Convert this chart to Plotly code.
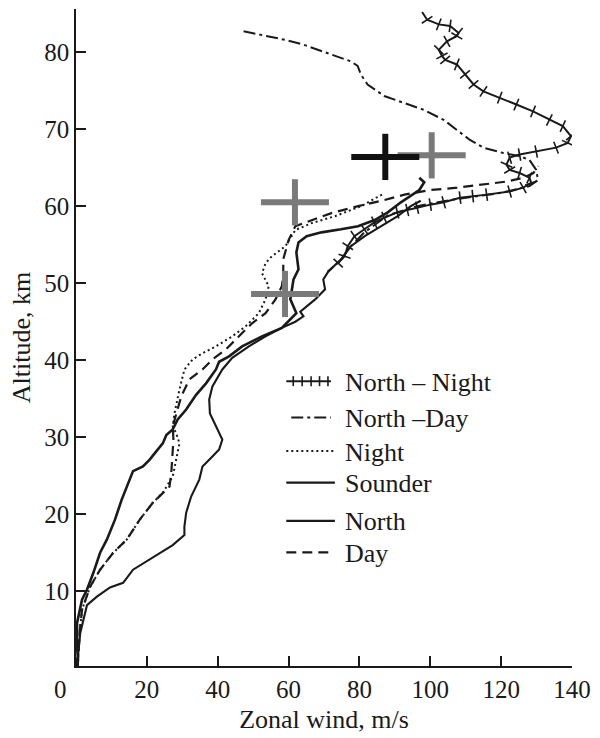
import plotly.graph_objects as go

# ---------------- data ----------------
north_night_v = [97.7, 99.1, 102.4, 105.6, 108.0, 107.5, 104.7, 102.4, 103.3, 104.2, 107.5, 109.8,
                 112.2, 115.0, 119.6, 124.3, 129.0, 133.6, 137.4, 139.7, 138.8, 135.5, 129.9, 125.2,
                 122.4, 121.5, 122.4, 125.2, 128.0, 128.5, 126.2, 122.4, 115.9, 112.0, 108.4, 103.8,
                 100.0, 96.3, 93.5, 90.7, 87.0, 84.2, 81.4, 78.6, 76.7, 75.8, 74.0]
north_night_alt = [85.2, 84.2, 83.6, 83.4, 82.5, 82.1, 81.4, 80.3, 79.5, 79.0, 78.4, 77.1,
                   75.8, 74.9, 74.1, 73.2, 72.3, 71.2, 70.4, 69.1, 68.2, 67.6, 67.1, 66.7,
                   66.3, 65.4, 64.7, 64.3, 63.7, 63.0, 62.4, 61.9, 61.5, 61.3, 61.1, 60.5,
                   60.2, 59.8, 59.5, 59.2, 58.5, 57.9, 57.0, 56.1, 54.8, 53.5, 52.6]

north_day_v = [47.3, 53.0, 59.0, 64.0, 68.3, 73.0, 77.6, 79.5, 80.4, 82.3, 87.0, 92.6, 98.2, 103.8,
               107.5, 111.2, 115.0, 120.6, 125.2, 128.0, 129.9, 130.4, 128.0, 119.6, 105.6, 96.3,
               88.0, 81.4, 76.8, 74.8, 71.0]
north_day_alt = [82.7, 82.2, 81.6, 81.0, 80.3, 79.6, 78.8, 78.2, 77.1, 75.8, 74.3, 73.4, 72.5, 71.2,
                 69.9, 68.6, 67.6, 66.9, 66.5, 66.0, 64.7, 63.4, 62.6, 61.7, 60.8, 60.0,
                 58.8, 56.6, 54.4, 53.0, 51.5]

night_v = [0.5, 1.0, 1.7, 4.0, 6.8, 10.5, 14.3, 18.0, 21.7, 24.5, 27.3, 28.3, 29.2, 28.3, 27.3,
           27.8, 29.2, 30.6, 32.9, 35.7, 39.5, 44.1, 47.9, 51.6, 53.5, 54.4, 52.5, 53.5, 55.3,
           59.1, 61.9, 66.5, 73.1, 80.5, 87.1]
night_alt = [0.3, 4.5, 7.6, 10.6, 12.8, 15.0, 16.7, 19.3, 21.5, 22.8, 24.9, 27.1, 29.2, 30.5, 31.4,
             33.1, 36.2, 38.8, 40.1, 40.9, 41.8, 43.1, 44.4, 46.1, 47.9, 49.6, 51.3, 52.6, 53.5,
             54.8, 56.9, 57.8, 58.7, 60.0, 61.7]

sounder_v = [0.3, 0.8, 1.2, 3.1, 5.9, 9.6, 13.3, 16.1, 19.9, 23.6, 27.3, 30.6, 30.6, 31.1, 32.5,
             34.8, 35.7, 38.5, 40.4, 41.3, 39.5, 37.8, 37.6, 38.5, 41.3, 44.1, 48.8, 53.5, 58.1,
             61.9, 64.2, 63.3, 67.5, 70.3, 69.8, 71.2, 74.8, 77.6, 81.5, 86.0, 90.8, 94.5, 97.3]
sounder_alt = [0.3, 2.5, 4.6, 8.2, 9.3, 10.5, 11.1, 12.8, 13.9, 15.0, 16.0, 17.3, 18.4, 20.2, 22.3,
               24.5, 26.2, 27.5, 28.4, 29.7, 31.4, 33.1, 34.9, 36.6, 38.8, 40.3, 41.8, 43.1, 44.2,
               45.0, 45.7, 46.3, 47.9, 49.2, 50.5, 51.5, 53.1, 54.8, 56.1, 57.4, 58.7, 60.0, 60.7]

north_v = [0.0, 0.5, 0.3, 0.3, 1.7, 3.1, 4.9, 6.8, 8.7, 11.0, 12.9, 14.7, 16.1, 18.9, 20.8, 22.7,
           24.5, 25.5, 27.3, 28.7, 31.1, 33.9, 36.7, 39.5, 40.4, 43.2, 46.9, 52.5, 58.1, 62.2,
           60.5, 61.4, 62.8, 62.2, 62.8, 65.1, 69.3, 74.8, 79.6, 84.3, 88.0, 91.7, 94.5, 96.9,
           98.3, 96.9]
north_alt = [0.3, 1.5, 2.8, 5.9, 8.9, 10.2, 12.4, 15.0, 16.7, 19.3, 21.9, 24.1, 25.6, 26.2, 27.1,
             28.2, 29.2, 30.3, 31.0, 32.3, 33.6, 35.5, 37.0, 38.8, 39.8, 40.5, 41.8, 43.1, 44.2,
             46.1, 47.9, 50.5, 51.8, 54.0, 55.3, 56.1, 56.6, 57.0, 57.4, 58.2, 59.2, 60.5, 61.3,
             62.1, 63.1, 63.7]

day_v = [0.5, 1.0, 1.7, 4.0, 6.8, 10.5, 14.3, 18.0, 21.7, 24.5, 26.4, 26.9, 27.3, 27.5, 27.3,
         28.3, 29.7, 32.0, 35.7, 38.5, 42.3, 46.0, 49.7, 53.5, 56.3, 58.1, 58.5, 58.5, 60.0, 61.9,
         66.5, 72.1, 79.6, 87.1, 92.7, 100.1, 107.6, 115.1, 121.6, 126.3, 129.1, 130.5]
day_alt = [0.3, 4.5, 7.6, 10.6, 12.8, 15.0, 16.7, 19.3, 21.5, 22.8, 23.6, 25.4, 28.0, 29.7, 31.4,
           33.1, 35.3, 37.5, 38.8, 40.1, 41.4, 43.1, 44.8, 46.1, 47.9, 49.6, 50.9, 53.1, 55.6, 57.4,
           58.2, 59.1, 60.0, 60.8, 61.5, 62.1, 62.4, 62.8, 63.2, 63.7, 64.3, 65.2]

gray_cross_v = [61.8, 59.0, 100.4]
gray_cross_alt = [60.5, 48.6, 66.6]
black_cross_v = [87.3]
black_cross_alt = [66.4]
cross_err_v = 9.6
cross_err_alt = 3.0

x_ticks = [0, 20, 40, 60, 80, 100, 120, 140]
y_ticks = [10, 20, 30, 40, 50, 60, 70, 80]

legend_names = ["North – Night", "North –Day", "Night", "Sounder", "North", "Day"]

FONT = "Liberation Serif, Times New Roman, Times, DejaVu Serif, serif"
INK = "#1a1a1a"

# plot-area geometry (pixels) used only to place the hand-drawn legend
L, R, T, B = 76, 24, 9, 71
W, H = 600, 738
PW, PH = W - L - R, H - T - B


def px(xp):
    return (xp - L) / PW


def py(yp):
    return (H - B - yp) / PH


fig = go.Figure()

line_styles = [
    dict(color=INK, width=2.0),
    dict(color=INK, width=2.0, dash="12px,4px,3px,4px"),
    dict(color=INK, width=2.0, dash="2px,3px"),
    dict(color=INK, width=2.1),
    dict(color=INK, width=2.6),
    dict(color=INK, width=2.2, dash="10px,6px"),
]

series = [(north_night_v, north_night_alt), (north_day_v, north_day_alt), (night_v, night_alt),
          (sounder_v, sounder_alt), (north_v, north_alt), (day_v, day_alt)]

for i, ((xs, ys), name) in enumerate(zip(series, legend_names)):
    if i == 0:
        fig.add_trace(go.Scatter(
            x=xs, y=ys, mode="lines+markers", name=name, showlegend=False,
            line=line_styles[i],
            marker=dict(symbol="line-ew", size=9, angleref="previous", angle=0,
                        line=dict(color=INK, width=1.6), color=INK)))
    else:
        fig.add_trace(go.Scatter(x=xs, y=ys, mode="lines", name=name, showlegend=False,
                                 line=line_styles[i]))

fig.add_trace(go.Scatter(
    x=gray_cross_v, y=gray_cross_alt, mode="markers", showlegend=False,
    marker=dict(size=1, color="rgba(0,0,0,0)"),
    error_x=dict(type="constant", value=cross_err_v, width=0, thickness=6, color="#7a7a7a"),
    error_y=dict(type="constant", value=cross_err_alt, width=0, thickness=6, color="#7a7a7a")))
fig.add_trace(go.Scatter(
    x=black_cross_v, y=black_cross_alt, mode="markers", showlegend=False,
    marker=dict(size=1, color="rgba(0,0,0,0)"),
    error_x=dict(type="constant", value=cross_err_v, width=0, thickness=6, color="#111111"),
    error_y=dict(type="constant", value=cross_err_alt, width=0, thickness=6, color="#111111")))

# ---------------- hand-drawn legend ----------------
row_y = [381.7, 418.0, 451.7, 483.3, 521.7, 553.3]
sample_x0 = [288, 293, 288, 288, 288, 288]
sample_x1 = [333, 333, 336, 337, 337, 336]
text_x = 345
for i, name in enumerate(legend_names):
    st = dict(line_styles[i])
    if i == 4:
        st["width"] = 2.1
    fig.add_shape(type="line", xref="paper", yref="paper",
                  x0=px(sample_x0[i]), x1=px(sample_x1[i]), y0=py(row_y[i]), y1=py(row_y[i]),
                  line=st)
    fig.add_annotation(x=px(text_x), y=py(row_y[i] + 1), xref="paper", yref="paper",
                       text=name, showarrow=False, xanchor="left", yanchor="middle",
                       font=dict(family=FONT, size=26, color=INK))
for hx in [295, 304, 313, 321.5, 330]:
    fig.add_shape(type="line", xref="paper", yref="paper",
                  x0=px(hx), x1=px(hx), y0=py(row_y[0] - 5), y1=py(row_y[0] + 5),
                  line=dict(color=INK, width=1.6))

fig.add_annotation(x=x_ticks[0], y=0, xref="x", yref="paper", text=str(x_ticks[0]),
                   showarrow=False, xanchor="center", yanchor="top", xshift=-16, yshift=-8,
                   font=dict(family=FONT, size=25, color=INK))

fig.update_layout(
    width=W, height=H,
    margin=dict(l=L, r=R, t=T, b=B),
    paper_bgcolor="white", plot_bgcolor="white",
    font=dict(family=FONT, size=25, color=INK),
    showlegend=False,
    xaxis=dict(range=[0, 140], tickvals=x_ticks[1:], ticktext=[str(t) for t in x_ticks[1:]],
               ticks="inside", ticklen=10, tickwidth=1.5, tickcolor=INK,
               showline=True, linecolor=INK, linewidth=1.5, showgrid=False, zeroline=False,
               tickfont=dict(family=FONT, size=25, color=INK),
               title=dict(text="Zonal wind, m/s", font=dict(family=FONT, size=26, color=INK),
                          standoff=8)),
    yaxis=dict(range=[0.3, 85.6], tickvals=y_ticks, ticktext=[str(t) for t in y_ticks],
               ticks="inside", ticklen=10, tickwidth=1.5, tickcolor=INK,
               showline=True, linecolor=INK, linewidth=1.5, showgrid=False, zeroline=False,
               tickfont=dict(family=FONT, size=25, color=INK),
               title=dict(text="Altitude, km", font=dict(family=FONT, size=26, color=INK),
                          standoff=6)),
)

fig.write_html("out.html", config={"displayModeBar": False},
               post_script="document.body.style.margin='0px';")
